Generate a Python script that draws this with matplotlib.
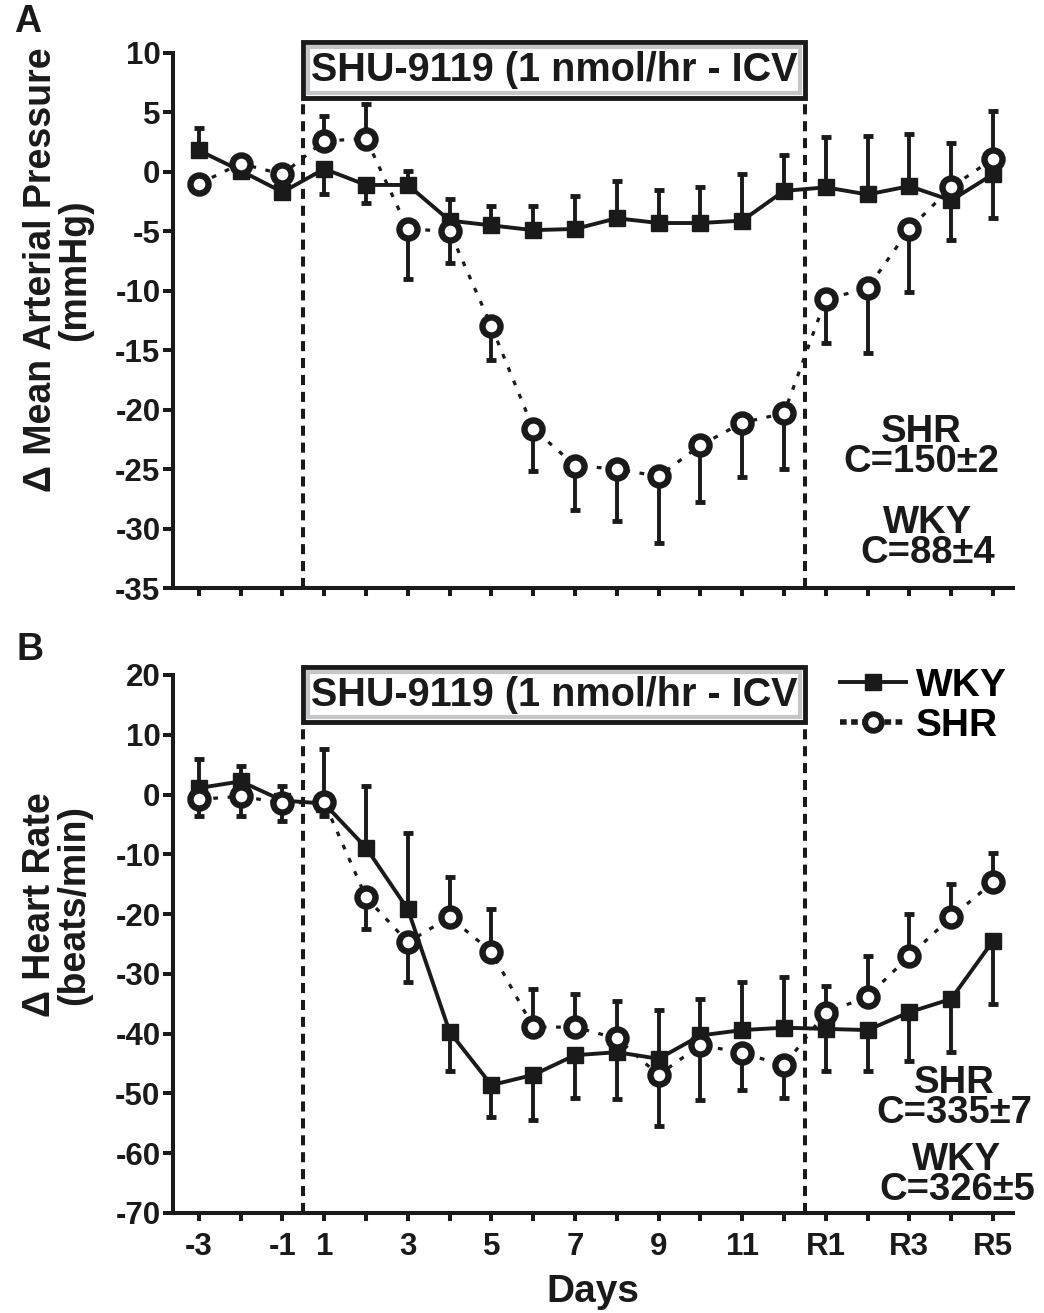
import numpy as np
import matplotlib.pyplot as plt
from matplotlib.patches import Rectangle
from matplotlib.lines import Line2D
from matplotlib import transforms

plt.rcParams['font.family'] = ['Liberation Sans', 'DejaVu Sans']
plt.rcParams['font.weight'] = 'bold'
plt.rcParams['axes.unicode_minus'] = False

# ---- data (index positions: -3..-1, 1..12, R1..R5) ----
day_labels = ['-3', '-2', '-1', '1', '2', '3', '4', '5', '6', '7', '8',
              '9', '10', '11', '12', 'R1', 'R2', 'R3', 'R4', 'R5']

# Panel A: change in mean arterial pressure (mmHg)
map_wky = [1.8, 0.1, -1.7, 0.25, -1.1, -1.1, -4.1, -4.5, -4.9, -4.8,
           -3.9, -4.3, -4.3, -4.1, -1.6, -1.3, -1.9, -1.2, -2.4, -0.2]
map_wky_hi = [1.9, 0, 0, 0, 0, 1.2, 1.8, 1.6, 2.0, 2.8,
              3.1, 2.8, 3.0, 3.9, 3.0, 4.2, 4.9, 4.4, 0, 0]
map_wky_lo = [0, 0, 0, 2.1, 1.5, 0, 0, 0, 0, 0,
              0, 0, 0, 0, 0, 0, 0, 0, 3.3, 3.7]

map_shr = [-1.0, 0.7, -0.2, 2.6, 2.8, -4.8, -5.0, -13.0, -21.6, -24.7,
           -25.0, -25.6, -23.0, -21.1, -20.3, -10.7, -9.8, -4.8, -1.3, 1.1]
map_shr_hi = [0, 0, 0, 2.1, 2.9, 0, 0, 0, 0, 0,
              0, 0, 0, 0, 0, 0, 0, 0, 3.7, 4.0]
map_shr_lo = [0, 0, 0, 0, 0, 4.2, 2.7, 2.8, 3.6, 3.7,
              4.4, 5.6, 4.8, 4.6, 4.7, 3.7, 5.4, 5.3, 0, 0]

# Panel B: change in heart rate (beats/min)
hr_wky = [1.1, 2.2, -1.0, -1.5, -8.9, -19.2, -39.7, -48.6, -46.9, -43.6,
          -43.1, -44.2, -40.3, -39.4, -39.0, -39.2, -39.4, -36.4, -34.2, -24.5]
hr_wky_hi = [4.9, 2.5, 2.5, 9.2, 10.4, 12.7, 0, 0, 0, 0,
             0, 8.1, 6.1, 8.1, 8.4, 0, 0, 0, 0, 0]
hr_wky_lo = [0, 0, 0, 0, 0, 0, 6.5, 5.3, 7.5, 7.1,
             7.9, 0, 0, 0, 0, 7.0, 6.8, 8.1, 8.8, 10.5]

hr_shr = [-0.8, -0.3, -1.4, -1.3, -17.2, -24.7, -20.5, -26.3, -38.9, -38.9,
          -40.8, -46.9, -41.9, -43.2, -45.3, -36.5, -33.8, -27.0, -20.5, -14.7]
hr_shr_hi = [0, 0, 0, 0, 0, 0, 6.7, 7.1, 6.4, 5.6,
             6.2, 0, 0, 0, 0, 4.5, 6.8, 7.0, 5.5, 4.9]
hr_shr_lo = [2.8, 3.3, 3.1, 2.3, 5.3, 6.7, 0, 0, 0, 0,
             0, 8.5, 9.2, 6.3, 5.5, 0, 0, 0, 0, 0]

# baseline values printed on each panel
baseline_a = ['SHR\nC=150\u00b12', 'WKY\nC=88\u00b14']
baseline_b = ['SHR\nC=335\u00b17', 'WKY\nC=326\u00b15']

box_text = 'SHU-9119 (1 nmol/hr - ICV'
infusion_start, infusion_end = 2.5, 14.5

W, H = 1044, 1313
INK = '#1a1a1a'
fig = plt.figure(figsize=(W / 100, H / 100), dpi=100)


def px_axes(left, top, right, bottom):
    return fig.add_axes([left / W, 1 - bottom / H, (right - left) / W, (bottom - top) / H])


ax_a = px_axes(173, 53, 1013, 588)
ax_b = px_axes(173, 675, 1013, 1213)

x = np.arange(len(day_labels))
LW = 2.8


def draw_errors(ax, y, hi, lo):
    y = np.array(y)
    hi = np.array(hi)
    lo = np.array(lo)
    m = hi > 0
    if m.any():
        ax.errorbar(x[m], y[m], yerr=[np.zeros(m.sum()), hi[m]], fmt='none',
                    ecolor=INK, elinewidth=LW, capsize=3.5, capthick=3.5, zorder=2)
    m = lo > 0
    if m.any():
        ax.errorbar(x[m], y[m], yerr=[lo[m], np.zeros(m.sum())], fmt='none',
                    ecolor=INK, elinewidth=LW, capsize=3.5, capthick=3.5, zorder=2)


def draw_panel(ax, wky, wky_hi, wky_lo, shr, shr_hi, shr_lo, ylim, yticks, box_top, box_bot):
    draw_errors(ax, wky, wky_hi, wky_lo)
    draw_errors(ax, shr, shr_hi, shr_lo)
    ax.plot(x, wky, color=INK, lw=LW, marker='s', ms=11, mfc=INK,
            mec=INK, zorder=3, label='WKY')
    ax.plot(x, shr, color=INK, lw=2.3, ls=(0, (1.5, 3)), marker='o', ms=13,
            mfc='white', mec=INK, mew=4.6, zorder=4, label='SHR')

    ax.set_xlim(-0.62, 19.48)
    ax.set_ylim(*ylim)
    ax.set_yticks(yticks)
    ax.set_xticks(x)
    for s in ['top', 'right']:
        ax.spines[s].set_visible(False)
    for s in ['left', 'bottom']:
        ax.spines[s].set_linewidth(2.9)
        ax.spines[s].set_color(INK)
    ax.tick_params(direction='out', length=7, width=2.9, color=INK,
                   labelsize=22.5, pad=2, labelcolor=INK)
    ax.tick_params(axis='x', length=6, pad=8)

    # infusion period markers
    trans = transforms.blended_transform_factory(ax.transData, ax.transAxes)
    for xv in (infusion_start, infusion_end):
        ax.plot([xv, xv], [0, box_bot], transform=trans, color=INK, lw=2.9,
                ls=(0, (2.5, 1.7)), clip_on=False, zorder=1)
    ax.add_patch(Rectangle((infusion_start, box_bot), infusion_end - infusion_start,
                           box_top - box_bot, transform=trans, fc='white', ec=INK,
                           lw=3.5, clip_on=False, zorder=5))
    dx, dy = 0.11, 5.0 / (ax.bbox.height)
    ax.add_patch(Rectangle((infusion_start + dx, box_bot + dy), infusion_end - infusion_start - 2 * dx,
                           box_top - box_bot - 2 * dy, transform=trans, fc='none', ec='#c4c6c8',
                           lw=3.0, clip_on=False, zorder=6))
    ax.text((infusion_start + infusion_end) / 2, (box_top + box_bot) / 2, box_text,
            transform=trans, ha='center', va='center', fontsize=28.5, fontweight='bold',
            color=INK, zorder=7)


draw_panel(ax_a, map_wky, map_wky_hi, map_wky_lo, map_shr, map_shr_hi, map_shr_lo,
           (-35, 10), np.arange(-35, 11, 5), (588 - 42) / 535, (588 - 98) / 535)
draw_panel(ax_b, hr_wky, hr_wky_hi, hr_wky_lo, hr_shr, hr_shr_hi, hr_shr_lo,
           (-70, 20), np.arange(-70, 21, 10), (1213 - 667) / 538, (1213 - 722) / 538)

ax_a.set_xticklabels([])
ax_b.set_xticklabels([lab if i in (0, 2, 3, 5, 7, 9, 11, 13, 15, 17, 19) else ''
                      for i, lab in enumerate(day_labels)])
ax_b.set_xlabel('Days', fontsize=28, fontweight='bold', labelpad=8, color=INK)

# y labels and panel letters
fig.text(58 / W, 1 - 270 / H, '\u0394 Mean Arterial Pressure\n(mmHg)', rotation=90,
         ha='center', va='center', fontsize=27, fontweight='bold', linespacing=0.95,
         multialignment='center', color=INK)
fig.text(57 / W, 1 - 905 / H, '\u0394 Heart Rate\n(beats/min)', rotation=90,
         ha='center', va='center', fontsize=27, fontweight='bold', linespacing=0.95,
         multialignment='center', color=INK)
fig.text(28 / W, 1 - 22 / H, 'A', ha='center', va='center', fontsize=27,
         fontweight='bold', color=INK)
fig.text(30 / W, 1 - 650 / H, 'B', ha='center', va='center', fontsize=27,
         fontweight='bold', color=INK)

# baseline annotations (two-line blocks)
for txt, cx, cy in [(baseline_a[0], 921, 447), (baseline_a[1], 928, 538),
                    (baseline_b[0], 954, 1098), (baseline_b[1], 957, 1175)]:
    fig.text(cx / W, 1 - cy / H, txt, ha='center', va='center', fontsize=27.5,
             fontweight='bold', color=INK, linespacing=0.78, multialignment='center')

# legend
handles = [Line2D([], [], color=INK, lw=LW, marker='s', ms=11, mfc=INK),
           Line2D([], [], color=INK, lw=4, ls=(0, (1.2, 0.8)), marker='o', ms=12,
                  mfc='white', mec=INK, mew=4.2)]
fig.legend(handles, ['WKY', 'SHR'], loc='upper left', bbox_to_anchor=(840 / W, 1 - 668 / H),
           frameon=False, handlelength=1.7, handletextpad=0.25,
           labelspacing=0.1, borderpad=0, borderaxespad=0, prop={'weight': 'bold', 'size': 28})

fig.savefig('out.png', dpi=100)
